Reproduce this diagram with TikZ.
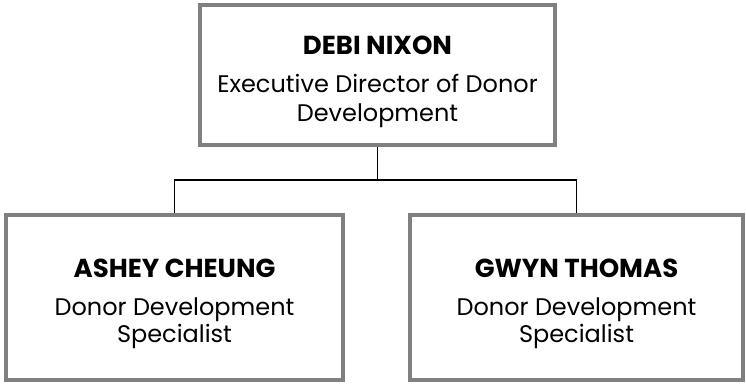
\documentclass[tikz,border=0pt]{standalone}
\usepackage{fontspec}
\setmainfont{Poppins}
\definecolor{boxgray}{HTML}{808080}
\begin{document}
\begin{tikzpicture}[x=1pt,y=-1pt,
  box/.style={draw=boxgray,line width=4pt,fill=white,inner sep=0pt},
  conn/.style={draw=black,line width=1.6pt},
  pname/.style={font=\bfseries\fontsize{26}{30}\selectfont,inner sep=0pt},
  ptitle/.style={font=\fontsize{24}{29}\selectfont,align=center,inner sep=0pt}]
\useasboundingbox (0,0) rectangle (746,384);
\node[box,minimum width=355pt,minimum height=140pt] (top) at (377.5,75) {};
\node[box,minimum width=337pt,minimum height=165pt] (left) at (174.5,297.5) {};
\node[box,minimum width=333pt,minimum height=165pt] (right) at (576.5,297.5) {};
\path (top.south) ++(0,33) coordinate (j);
\draw[conn] (top.south) -- (j);
\draw[conn] (left.north) |- (j) -| (right.north);
\node[pname] (n1) at (377.5,45) {DEBI NIXON};
\node[ptitle] (t1) at (377.5,101) {Executive Director of Donor\\Development};
\node[pname] (n2) at (174.5,268) {ASHEY CHEUNG};
\node[ptitle,font=\fontsize{24}{27}\selectfont] (t2) at (174.5,323) {Donor Development\\Specialist};
\node[pname] (n3) at (576.5,268) {GWYN THOMAS};
\node[ptitle,font=\fontsize{24}{27}\selectfont] (t3) at (576.5,323) {Donor Development\\Specialist};
\end{tikzpicture}
\end{document}
